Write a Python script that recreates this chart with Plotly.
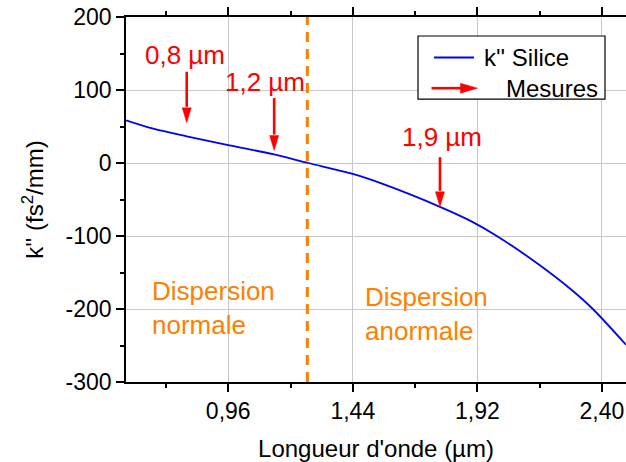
import plotly.graph_objects as go

# Data: k'' of silica vs wavelength
wavelength = [0.566, 0.671, 0.80, 0.96, 1.133, 1.268, 1.44, 1.558, 1.776, 1.892,
              1.995, 2.149, 2.277, 2.365, 2.493]
k2 = [58.5, 47, 36.5, 24.5, 12, 0, -15, -29, -60, -79,
      -100, -137, -172, -200, -249]

zero_disp = 1.265
# measurement arrows
meas_x = [0.80, 1.137, 1.776]
meas_tail = [125, 89, 8]
meas_tip = [55, 17, -60]
meas_labels = ["0,8 µm", "1,2 µm", "1,9 µm"]
lab_x = [0.795, 1.10, 1.782]
lab_y = [148, 111, 36]

x_range = [0.566, 2.493]
y_range = [-300, 200]
x_ticks = [0.96, 1.44, 1.92, 2.40]
x_ticklabels = ["0,96", "1,44", "1,92", "2,40"]
x_minor = [0.72, 1.20, 1.68, 2.16]
y_ticks = [-300, -200, -100, 0, 100, 200]
y_ticklabels = ["-300", "-200", "-100", "0", "100", "200"]

FONT = "Liberation Sans, Arial, sans-serif"
RED = "#FF0000"
ORANGE = "#FF8000"

W, H = 626, 462
ML, MR, MT, MB = 126, 0, 17, 80
PW, PH = W - ML - MR, H - MT - MB
ux = (x_range[1] - x_range[0]) / PW   # data units per pixel
uy = (y_range[1] - y_range[0]) / PH
HEAD_LEN, HEAD_HALF = 15, 4.5         # pixels

fig = go.Figure()
fig.add_trace(go.Scatter(x=wavelength, y=k2, mode="lines",
                         line=dict(color="#0000FF", width=1.8, shape="spline", smoothing=0.9),
                         showlegend=False, hoverinfo="skip"))

# zero-dispersion dashed line
fig.add_shape(type="line", x0=zero_disp, x1=zero_disp, y0=y_range[0], y1=y_range[1], xref="x", yref="y",
              line=dict(color=ORANGE, width=3, dash="10px,7px"))

ann = []
for x, t0, t1, lab, lx, ly in zip(meas_x, meas_tail, meas_tip, meas_labels, lab_x, lab_y):
    base = t1 + HEAD_LEN * uy
    fig.add_shape(type="line", x0=x, x1=x, y0=t0, y1=base + 1 * uy, xref="x", yref="y",
                  line=dict(color=RED, width=2.6))
    fig.add_shape(type="path", xref="x", yref="y",
                  path=f"M {x - HEAD_HALF * ux},{base} L {x + HEAD_HALF * ux},{base} L {x},{t1} Z",
                  fillcolor=RED, line=dict(color=RED, width=0.5))
    ann.append(dict(x=lx, y=ly, xref="x", yref="y", text=lab, showarrow=False,
                    font=dict(family=FONT, size=26, color=RED)))

ann.append(dict(x=0.66, y=-199, xref="x", yref="y", text="Dispersion<br>normale", showarrow=False,
                xanchor="left", align="left", font=dict(family=FONT, size=26, color=ORANGE)))
ann.append(dict(x=1.48, y=-207, xref="x", yref="y", text="Dispersion<br>anormale", showarrow=False,
                xanchor="left", align="left", font=dict(family=FONT, size=26, color=ORANGE)))

# legend (drawn manually, in axis-domain fractions)
fig.add_shape(type="rect", xref="x domain", yref="y domain", x0=0.584, x1=0.958, y0=0.775, y1=0.948,
              line=dict(color="black", width=1.2), fillcolor="white", layer="above")
fig.add_shape(type="line", xref="x domain", yref="y domain", x0=0.616, x1=0.696, y0=0.889, y1=0.889,
              line=dict(color="#0000FF", width=2), layer="above")
ann.append(dict(x=0.712, y=0.889, xref="x domain", yref="y domain", text="k'' Silice", showarrow=False,
                xanchor="left", yanchor="middle", font=dict(family=FONT, size=24, color="black")))
la_x0, la_x1, la_y = 0.611, 0.703, 0.805
la_base = la_x1 - 17 / PW
fig.add_shape(type="line", xref="x domain", yref="y domain", x0=la_x0, x1=la_base + 1 / PW, y0=la_y, y1=la_y,
              line=dict(color=RED, width=2.6), layer="above")
fig.add_shape(type="path", xref="x domain", yref="y domain",
              path=f"M {la_base},{la_y - 5 / PH} L {la_base},{la_y + 5 / PH} L {la_x1},{la_y} Z",
              fillcolor=RED, line=dict(color=RED, width=0.5), layer="above")
ann.append(dict(x=0.756, y=0.805, xref="x domain", yref="y domain", text="Mesures", showarrow=False,
                xanchor="left", yanchor="middle", font=dict(family=FONT, size=24, color="black")))

fig.update_layout(
    width=W, height=H,
    margin=dict(l=ML, r=MR, t=MT, b=MB),
    plot_bgcolor="white", paper_bgcolor="white",
    font=dict(family=FONT, size=23, color="black"),
    annotations=ann,
    showlegend=False,
)
fig.update_xaxes(range=x_range, tickvals=x_ticks, ticktext=x_ticklabels, automargin=False,
                 showgrid=True, gridcolor="#C8C8C8", gridwidth=1,
                 showline=True, linecolor="black", linewidth=1.5, mirror="ticks",
                 ticks="outside", ticklen=8, tickwidth=1.5, tickcolor="black",
                 minor=dict(tickvals=x_minor, ticklen=4, tickwidth=1.5, tickcolor="black", ticks="outside", showgrid=False),
                 title=dict(text="Longueur d'onde (µm)", font=dict(size=24), standoff=18),
                 zeroline=False)
fig.update_yaxes(range=y_range, tickvals=y_ticks, ticktext=y_ticklabels, automargin=False,
                 showgrid=True, gridcolor="#C8C8C8", gridwidth=1,
                 showline=True, linecolor="black", linewidth=1.5, mirror=False,
                 ticks="outside", ticklen=8, tickwidth=1.5, tickcolor="black",
                 minor=dict(dtick=50, tick0=0, ticklen=4, tickwidth=1.5, tickcolor="black", ticks="outside", showgrid=False),
                 title=dict(text="k'' (fs<sup>2</sup>/mm)", font=dict(size=24), standoff=15),
                 zeroline=False)

fig.write_html("out.html", config={"displayModeBar": False},
               post_script="document.body.style.margin='0';document.body.style.overflow='hidden';")
